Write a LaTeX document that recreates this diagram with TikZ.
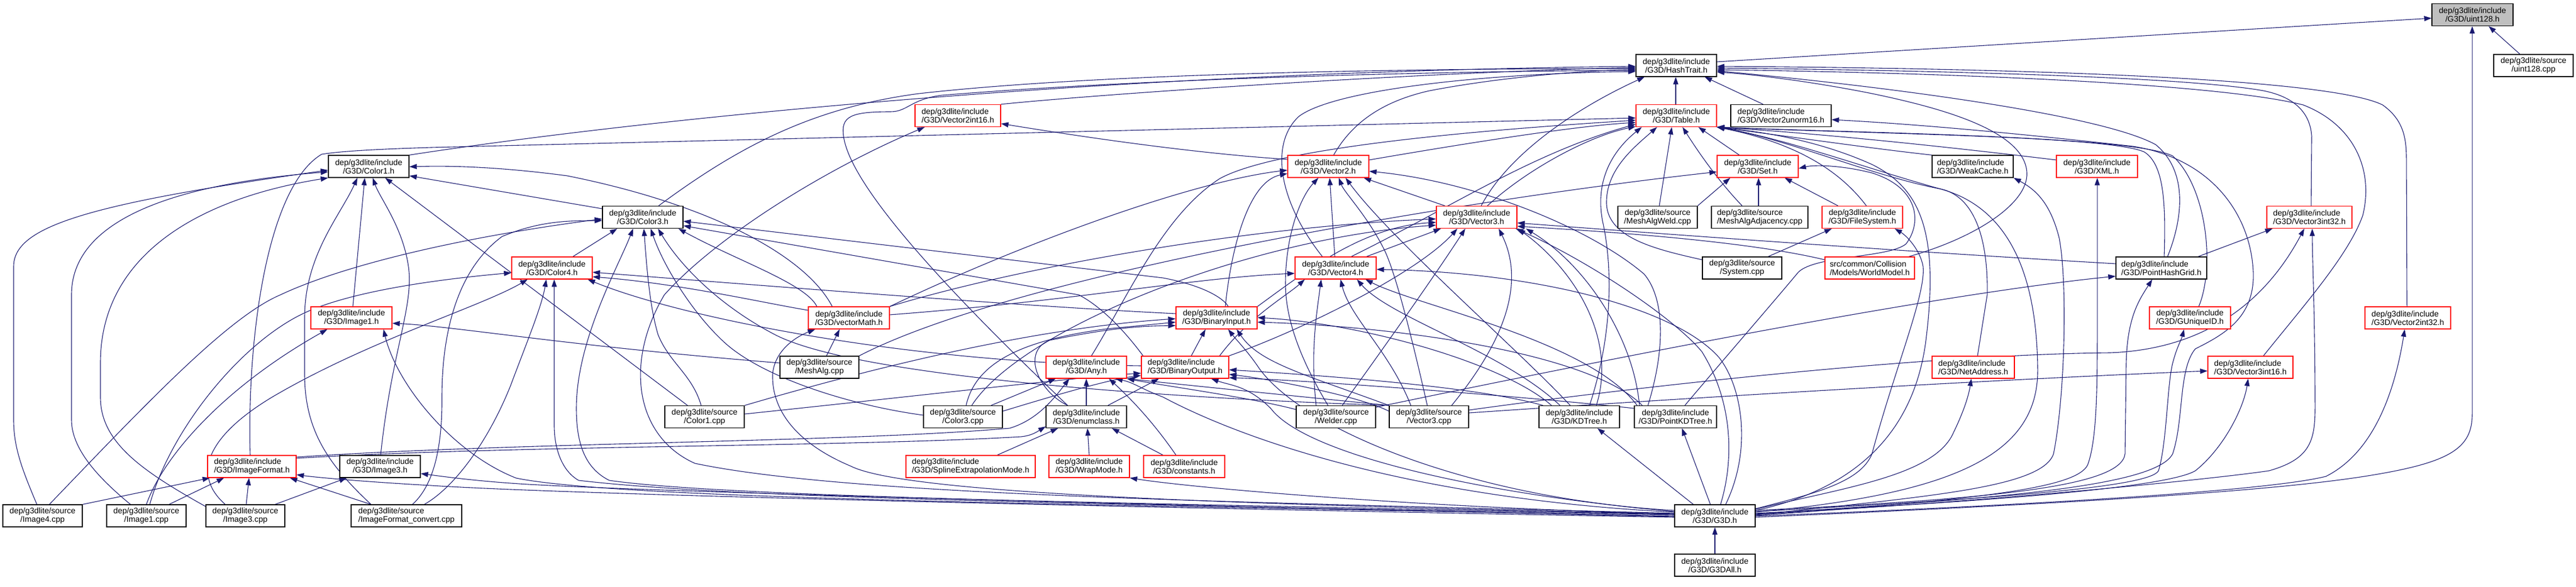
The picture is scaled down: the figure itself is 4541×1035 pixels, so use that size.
\documentclass[tikz,border=0pt]{standalone}
\usepackage{fontspec}
\newfontfamily\nodefont{Liberation Sans}
\usetikzlibrary{arrows.meta,calc}
\definecolor{edgecol}{HTML}{191970}
\pgfdeclarelayer{bg}
\pgfsetlayers{bg,main}
\tikzset{
  nd/.style={draw=black, line width=1.3pt, fill=white, minimum height=39pt, inner sep=0pt, font={\nodefont\fontsize{14.2}{15}\selectfont}},
  cen/.style={nd, align=center},
  lft/.style={nd, align=left},
  rd/.style={draw=red},
  edg/.style={draw=edgecol, line width=1.1pt, -{Triangle[length=13pt,width=9pt]}},
}
\begin{document}
\begin{tikzpicture}[x=1pt,y=-1pt]
\useasboundingbox (0,0) rectangle (4541,1035);
% ---------- nodes ----------
\node[cen, fill={rgb,255:red,191;green,191;blue,191}, minimum width=143pt] (u) at (4358.5,26) {dep/g3dlite/include\\/G3D/uint128.h};
\node[cen, minimum width=140pt] (uc) at (4466,115.5) {dep/g3dlite/source\\/uint128.cpp};
\node[cen, minimum width=142pt] (ht) at (2955,115.5) {dep/g3dlite/include\\/G3D/HashTrait.h};
\node[cen, rd, minimum width=142pt] (t) at (2955,204) {dep/g3dlite/include\\/G3D/Table.h};
\node[lft, rd, minimum width=151pt] (v2i16) at (1688.5,204) {dep/g3dlite/include\\/G3D/Vector2int16.h};
\node[lft, minimum width=177pt] (v2u16) at (3139.5,204) {dep/g3dlite/include\\/G3D/Vector2unorm16.h};
\node[cen, minimum width=142pt] (c1) at (650,293.5) {dep/g3dlite/include\\/G3D/Color1.h};
\node[cen, rd, minimum width=143pt] (v2) at (2341.5,293.5) {dep/g3dlite/include\\/G3D/Vector2.h};
\node[cen, rd, minimum width=143pt] (set) at (3098.5,293.5) {dep/g3dlite/include\\/G3D/Set.h};
\node[lft, minimum width=143pt] (wc) at (3477.5,293.5) {dep/g3dlite/include\\/G3D/WeakCache.h};
\node[cen, rd, minimum width=143pt] (xml) at (3696.5,293.5) {dep/g3dlite/include\\/G3D/XML.h};
\node[cen, minimum width=142pt] (c3) at (1133,383) {dep/g3dlite/include\\/G3D/Color3.h};
\node[cen, rd, minimum width=142pt] (v3) at (2603,383) {dep/g3dlite/include\\/G3D/Vector3.h};
\node[cen, minimum width=140pt] (maw) at (2922,383) {dep/g3dlite/source\\/MeshAlgWeld.cpp};
\node[lft, minimum width=170pt] (maa) at (3102,383) {dep/g3dlite/source\\/MeshAlgAdjacency.cpp};
\node[cen, rd, minimum width=142pt] (fs) at (3283,383) {dep/g3dlite/include\\/G3D/FileSystem.h};
\node[lft, rd, minimum width=150pt] (v3i32) at (4071,383) {dep/g3dlite/include\\/G3D/Vector3int32.h};
\node[cen, rd, minimum width=142pt] (c4) at (973,472.5) {dep/g3dlite/include\\/G3D/Color4.h};
\node[cen, rd, minimum width=143pt] (v4) at (2354.5,472.5) {dep/g3dlite/include\\/G3D/Vector4.h};
\node[cen, minimum width=140pt] (sys) at (3071,472.5) {dep/g3dlite/source\\/System.cpp};
\node[lft, rd, minimum width=158pt] (wm) at (3296,472.5) {src/common/Collision\\/Models/WorldModel.h};
\node[lft, minimum width=160pt] (phg) at (3810,472.5) {dep/g3dlite/include\\/G3D/PointHashGrid.h};
\node[cen, rd, minimum width=143pt] (i1) at (619.5,560.5) {dep/g3dlite/include\\/G3D/Image1.h};
\node[cen, rd, minimum width=143pt] (vm) at (1496.5,560.5) {dep/g3dlite/include\\/G3D/vectorMath.h};
\node[cen, rd, minimum width=143pt] (bi) at (2144.5,560.5) {dep/g3dlite/include\\/G3D/BinaryInput.h};
\node[cen, rd, minimum width=143pt] (guid) at (3860.5,560.5) {dep/g3dlite/include\\/G3D/GUniqueID.h};
\node[lft, rd, minimum width=151pt] (v2i32) at (4244.5,560.5) {dep/g3dlite/include\\/G3D/Vector2int32.h};
\node[cen, minimum width=139pt] (ma) at (1444.5,647.5) {dep/g3dlite/source\\/MeshAlg.cpp};
\node[cen, rd, minimum width=142pt] (any) at (1915,647.5) {dep/g3dlite/include\\/G3D/Any.h};
\node[lft, rd, minimum width=154pt] (bo) at (2089,647.5) {dep/g3dlite/include\\/G3D/BinaryOutput.h};
\node[lft, rd, minimum width=145pt] (na) at (3478.5,647.5) {dep/g3dlite/include\\/G3D/NetAddress.h};
\node[lft, rd, minimum width=150pt] (v3i16) at (3967,647.5) {dep/g3dlite/include\\/G3D/Vector3int16.h};
\node[cen, minimum width=140pt] (c1c) at (1242,735) {dep/g3dlite/source\\/Color1.cpp};
\node[cen, minimum width=139pt] (c3c) at (1697.5,735) {dep/g3dlite/source\\/Color3.cpp};
\node[cen, minimum width=142pt] (ec) at (1915,735) {dep/g3dlite/include\\/G3D/enumclass.h};
\node[cen, minimum width=140pt] (wel) at (2355,735) {dep/g3dlite/source\\/Welder.cpp};
\node[cen, minimum width=140pt] (v3c) at (2519,735) {dep/g3dlite/source\\/Vector3.cpp};
\node[cen, minimum width=142pt] (kd) at (2784,735) {dep/g3dlite/include\\/G3D/KDTree.h};
\node[cen, minimum width=145pt] (pkd) at (2953.5,735) {dep/g3dlite/include\\/G3D/PointKDTree.h};
\node[lft, rd, minimum width=156pt] (if) at (444,822.5) {dep/g3dlite/include\\/G3D/ImageFormat.h};
\node[cen, minimum width=142pt] (i3) at (670,822.5) {dep/g3dlite/include\\/G3D/Image3.h};
\node[lft, rd, minimum width=228pt] (sem) at (1711,822.5) {dep/g3dlite/include\\/G3D/SplineExtrapolationMode.h};
\node[cen, rd, minimum width=142pt] (wmode) at (1920,822.5) {dep/g3dlite/include\\/G3D/WrapMode.h};
\node[cen, rd, minimum width=143pt] (const) at (2087.5,822.5) {dep/g3dlite/include\\/G3D/constants.h};
\node[cen, minimum width=140pt] (i4c) at (75,909.5) {dep/g3dlite/source\\/Image4.cpp};
\node[cen, minimum width=140pt] (i1c) at (258,909.5) {dep/g3dlite/source\\/Image1.cpp};
\node[cen, minimum width=139pt] (i3c) at (432.5,909.5) {dep/g3dlite/source\\/Image3.cpp};
\node[lft, minimum width=195pt] (ifc) at (716.5,909.5) {dep/g3dlite/source\\/ImageFormat\_convert.cpp};
\node[cen, minimum width=142pt] (g3d) at (3023,909.5) {dep/g3dlite/include\\/G3D/G3D.h};
\node[cen, minimum width=142pt] (g3dall) at (3023,996.5) {dep/g3dlite/include\\/G3D/G3DAll.h};
% ---------- edges ----------
\begin{pgfonlayer}{bg}
% uint128
\draw[edg] (ht.east |- 0,109) -- (u.west |- 0,32);
\draw[edg] (uc.north -| 4442,0) -- (u.south -| 4387,0);
\draw[edg] (g3d.east |- 0,912) .. controls (3600,890) and (4000,868) .. (4180,838) .. controls (4320,815) and (4358,790) .. (4358,730) -- (u.south -| 4358,0);
% HashTrait
\draw[edg] (t.north -| 2954,0) -- (ht.south -| 2954,0);
\draw[edg] (v2u16.north -| 3108,0) -- (ht.south -| 3005,0);
\draw[edg] (v2i16.north east) .. controls (1950,165) and (2500,128) .. (ht.west |- 0,119);
\draw[edg] (c1.north east) .. controls (1100,215) and (1900,128) .. (ht.west |- 0,117);
\draw[edg] (c3.north -| 1161,0) .. controls (1300,260) and (1430,190) .. (1620,165) .. controls (1950,128) and (2500,121) .. (ht.west |- 0,121);
\draw[edg] (ec.north -| 1882,0) .. controls (1720,560) and (1500,340) .. (1487,240) .. controls (1482,205) and (1500,197) .. (1570,197) .. controls (1600,197) and (1605,175) .. (1660,168) .. controls (2000,140) and (2500,126) .. (ht.west |- 0,124);
\draw[edg] (v2.north -| 2351,0) .. controls (2380,222) and (2430,180) .. (2520,160) .. controls (2650,135) and (2800,124) .. (ht.west |- 0,123);
\draw[edg] (v4.north -| 2331,0) .. controls (2250,350) and (2240,250) .. (2290,205) .. controls (2350,160) and (2600,130) .. (ht.west |- 0,126);
\draw[edg] (v3.north -| 2611,0) .. controls (2660,270) and (2780,190) .. (ht.south -| 2899,0);
\draw[edg] (v2i32.north -| 4243,0) -- (4242,280) .. controls (4242,240) and (4235,210) .. (4200,185) .. controls (4100,135) and (3500,120) .. (ht.east |- 0,117);
\draw[edg] (v3i32.north -| 4074,0) -- (4075,240) .. controls (4072,195) and (4040,170) .. (3990,160) .. controls (3850,135) and (3400,124) .. (ht.east |- 0,120);
\draw[edg] (v3i16.north -| 3990,0) .. controls (4060,540) and (4140,450) .. (4165,380) .. controls (4185,300) and (4150,220) .. (4060,185) .. controls (3900,145) and (3400,128) .. (ht.east |- 0,123);
\draw[edg] (phg.north -| 3821,0) .. controls (3850,380) and (3855,300) .. (3800,255) .. controls (3700,200) and (3300,150) .. (ht.east |- 0,125);
\draw[edg] (wm.north -| 3365,0) .. controls (3480,420) and (3575,360) .. (3573,305) .. controls (3570,230) and (3420,190) .. (3300,165) .. controls (3200,145) and (3100,132) .. (ht.east |- 0,127);
% Table
\draw[edg] (if.north -| 441,0) .. controls (435,600) and (470,330) .. (567,272) .. controls (610,265) and (700,262) .. (760,260) -- (t.west |- 0,208);
\draw[edg] (v2.east |- 0,282) .. controls (2600,250) and (2780,222) .. (t.west |- 0,216);
\draw[edg] (v3.north -| 2622,0) .. controls (2690,300) and (2800,240) .. (t.west |- 0,223);
\draw[edg] (v4.north -| 2382,0) .. controls (2550,370) and (2700,270) .. (t.west |- 0,219);
\draw[edg] (any.north -| 1924,0) .. controls (1990,520) and (2050,380) .. (2150,315) .. controls (2250,260) and (2600,230) .. (t.west |- 0,212);
\draw[edg] (kd.north -| 2802,0) .. controls (2840,600) and (2845,480) .. (2825,390) .. controls (2810,310) and (2850,260) .. (t.south -| 2894,0);
\draw[edg] (sys.west |- 0,458) .. controls (2920,440) and (2835,420) .. (2832,360) .. controls (2830,300) and (2880,260) .. (t.south -| 2921,0);
\draw[edg] (maw.north -| 2925,0) -- (t.south -| 2947,0);
\draw[edg] (maa.north -| 3071,0) .. controls (3030,320) and (2995,270) .. (t.south -| 2966,0);
\draw[edg] (set.north -| 3066,0) -- (t.south -| 2994,0);
\draw[edg] (fs.north -| 3290,0) .. controls (3250,310) and (3180,255) .. (t.south east);
\draw[edg] (wc.north west) .. controls (3300,262) and (3150,240) .. (t.south east);
\draw[edg] (xml.west |- 0,282) .. controls (3400,255) and (3200,235) .. (t.south east);
\draw[edg] (na.north -| 3486,0) -- (3503,520) .. controls (3505,420) and (3480,345) .. (3420,333) .. controls (3300,310) and (3150,245) .. (t.south east);
\draw[edg] (g3d.east |- 0,900) .. controls (3250,867) and (3372,780) .. (3395,600) .. controls (3420,400) and (3380,330) .. (3300,290) .. controls (3200,245) and (3100,232) .. (t.south east);
\draw[edg] (g3d.east |- 0,903) .. controls (3450,870) and (3594,800) .. (3592,650) .. controls (3590,450) and (3520,360) .. (3420,333) .. controls (3300,300) and (3150,245) .. (t.south east);
\draw[edg] (guid.north -| 3876,0) .. controls (3905,470) and (3890,330) .. (3830,275) .. controls (3760,240) and (3300,235) .. (t.south east);
\draw[edg] (phg.north -| 3815,0) .. controls (3818,360) and (3815,290) .. (3780,268) .. controls (3720,240) and (3300,236) .. (t.south east);
% Vector2int16 / Vector2unorm16
\draw[edg] (v2.west |- 0,281) .. controls (2100,270) and (1900,240) .. (v2i16.east |- 0,218);
\draw[edg] (g3d.west |- 0,905) .. controls (2200,885) and (1500,875) .. (1225,817) .. controls (1120,770) and (1100,640) .. (1171,520) .. controls (1260,420) and (1450,300) .. (v2i16.south -| 1630,0);
\draw[edg] (g3d.east |- 0,906) .. controls (3500,880) and (3800,860) .. (3830,800) .. controls (3850,740) and (3840,650) .. (3870,615) .. controls (3920,590) and (3975,560) .. (3972,480) .. controls (3968,380) and (3900,280) .. (3760,258) .. controls (3600,240) and (3400,220) .. (v2u16.east |- 0,211);
% Color1
\draw[edg] (i4c.north -| 65,0) .. controls (40,830) and (24,790) .. (24,740) -- (24,470) .. controls (24,400) and (150,360) .. (c1.west |- 0,300);
\draw[edg] (i1c.north -| 230,0) .. controls (170,840) and (126,790) .. (126,740) -- (126,520) .. controls (126,390) and (300,325) .. (c1.west |- 0,303);
\draw[edg] (i3c.west |- 0,893) .. controls (250,830) and (177,780) .. (177,700) -- (177,640) .. controls (177,450) and (350,350) .. (c1.south west);
\draw[edg] (ifc.north -| 654,0) .. controls (580,820) and (537,760) .. (537,660) -- (537,560) .. controls (537,450) and (600,380) .. (c1.south -| 630,0);
\draw[edg] (i1.north -| 622,0) -- (c1.south -| 643,0);
\draw[edg] (i3.north -| 671,0) .. controls (690,620) and (730,540) .. (720,470) .. controls (710,400) and (670,350) .. (c1.south -| 657,0);
\draw[edg] (c1c.north -| 1212,0) -- (c1.south -| 679,0);
\draw[edg] (vm.north -| 1467,0) .. controls (1420,450) and (1250,360) .. (1000,310) .. controls (850,290) and (760,293) .. (c1.east |- 0,294);
\draw[edg] (c3.west |- 0,368) -- (c1.east |- 0,310);
% Vector2
\draw[edg] (v3.north -| 2547,0) -- (v2.south -| 2404,0);
\draw[edg] (v4.north -| 2353,0) -- (v2.south -| 2344,0);
\draw[edg] (wel.north -| 2341,0) .. controls (2290,630) and (2266,560) .. (2266,500) .. controls (2266,420) and (2290,350) .. (v2.south -| 2324,0);
\draw[edg] (v3c.north -| 2516,0) .. controls (2490,600) and (2460,480) .. (2440,440) .. controls (2410,380) and (2370,340) .. (v2.south -| 2360,0);
\draw[edg] (kd.north -| 2768,0) .. controls (2680,620) and (2450,420) .. (v2.south -| 2372,0);
\draw[edg] (pkd.north -| 2905,0) .. controls (2940,600) and (2930,520) .. (2898,483) .. controls (2800,400) and (2600,320) .. (v2.east |- 0,302);
\draw[edg] (vm.north east) .. controls (1800,430) and (2100,320) .. (v2.west |- 0,300);
\draw[edg] (bi.north -| 2160,0) .. controls (2170,440) and (2200,320) .. (v2.west |- 0,306);
% Set
\draw[edg] (maw.north east) -- (set.south -| 3050,0);
\draw[edg] (maa.north -| 3100,0) -- (set.south -| 3100,0);
\draw[edg] (fs.north -| 3240,0) -- (set.south -| 3146,0);
\draw[edg] (ma.north east) .. controls (1800,480) and (2600,350) .. (set.west |- 0,303);
\draw[edg] (pkd.north -| 2970,0) .. controls (3050,620) and (3120,540) .. (3170,480) .. controls (3200,450) and (3330,455) .. (3360,430) .. controls (3390,390) and (3380,330) .. (3300,305) .. controls (3250,292) and (3200,290) .. (set.east |- 0,297);
% WeakCache, XML
\draw[edg] (g3d.east |- 0,908) .. controls (3400,875) and (3600,860) .. (3620,800) .. controls (3640,700) and (3645,500) .. (3630,420) .. controls (3615,360) and (3590,335) .. (wc.south east);
\draw[edg] (g3d.east |- 0,909) .. controls (3500,880) and (3660,860) .. (3680,820) .. controls (3695,780) and (3697,700) .. (3697,600) -- (xml.south -| 3697,0);
% Color3
\draw[edg] (c4.north -| 1010,0) -- (c3.south -| 1088,0);
\draw[edg] (g3d.west |- 0,907) .. controls (2200,890) and (1300,880) .. (1074,847) .. controls (1030,825) and (1016,780) .. (1016,720) .. controls (1016,600) and (1090,470) .. (c3.south -| 1116,0);
\draw[edg] (c1c.north -| 1236,0) .. controls (1220,660) and (1180,640) .. (1160,590) .. controls (1145,540) and (1140,470) .. (c3.south -| 1135,0);
\draw[edg] (c3c.west |- 0,732) .. controls (1500,715) and (1340,665) .. (1273,600) .. controls (1220,550) and (1170,470) .. (c3.south -| 1147,0);
\draw[edg] (v3c.north west) .. controls (2000,700) and (1500,660) .. (1366,590) .. controls (1270,540) and (1200,470) .. (c3.south -| 1160,0);
\draw[edg] (vm.north -| 1440,0) .. controls (1420,500) and (1300,460) .. (c3.south -| 1196,0);
\draw[edg] (bi.north -| 2165,0) .. controls (2160,530) and (2130,505) .. (2050,490) -- (c3.east |- 0,390);
\draw[edg] (bo.north -| 2015,0) .. controls (1980,580) and (1940,540) .. (1902,520) -- (c3.east |- 0,398);
\draw[edg] (ifc.north -| 727,0) .. controls (760,860) and (780,800) .. (779,700) .. controls (779,600) and (800,480) .. (885,417) .. controls (950,390) and (1000,389) .. (c3.west |- 0,389);
\draw[edg] (i4c.north -| 87,0) .. controls (250,720) and (400,560) .. (494,520) .. controls (600,470) and (800,420) .. (c3.west |- 0,386);
% Color4
\draw[edg] (i1c.north -| 264,0) .. controls (300,760) and (420,610) .. (530,555) .. controls (620,510) and (800,490) .. (c4.west |- 0,481);
\draw[edg] (i3c.north -| 397,0) .. controls (330,830) and (380,760) .. (480,700) .. controls (650,600) and (850,540) .. (c4.south -| 930,0);
\draw[edg] (ifc.north -| 748,0) .. controls (800,860) and (860,780) .. (900,680) .. controls (930,600) and (955,540) .. (c4.south -| 963,0);
\draw[edg] (g3d.west |- 0,908) .. controls (2000,890) and (1300,880) .. (1020,847) .. controls (990,830) and (977,790) .. (977,750) -- (c4.south -| 977,0);
\draw[edg] (bo.west |- 0,645) .. controls (1600,640) and (1200,560) .. (c4.south -| 1036,0);
\draw[edg] (bi.west |- 0,553) .. controls (1800,540) and (1300,500) .. (c4.east |- 0,480);
\draw[edg] (vm.west |- 0,547) .. controls (1350,535) and (1200,500) .. (c4.east |- 0,488);
% Vector3
\draw[edg] (v4.north -| 2409,0) -- (v3.south -| 2540,0);
\draw[edg] (bo.north east) .. controls (2300,580) and (2500,480) .. (v3.south -| 2569,0);
\draw[edg] (wel.north -| 2366,0) .. controls (2420,640) and (2520,500) .. (v3.south -| 2583,0);
\draw[edg] (v3c.north -| 2559,0) .. controls (2620,640) and (2700,520) .. (v3.south -| 2642,0);
\draw[edg] (kd.north -| 2814,0) .. controls (2850,600) and (2780,480) .. (v3.south -| 2676,0);
\draw[edg] (pkd.north -| 2890,0) .. controls (2880,600) and (2800,470) .. (v3.south -| 2690,0);
\draw[edg] (phg.west |- 0,465) .. controls (3300,440) and (2900,410) .. (v3.east |- 0,393);
\draw[edg] (wm.west |- 0,458) .. controls (3100,430) and (2900,412) .. (v3.east |- 0,399);
\draw[edg] (vm.north east) .. controls (1800,470) and (2200,400) .. (v3.west |- 0,386);
\draw[edg] (bi.north east) .. controls (2300,480) and (2400,400) .. (v3.west |- 0,392);
\draw[edg] (c3c.north -| 1713,0) .. controls (1800,580) and (2200,420) .. (v3.west |- 0,397);
\draw[edg] (g3d.north -| 3033,0) .. controls (3060,800) and (3050,700) .. (3000,620) .. controls (2950,560) and (2800,460) .. (v3.south -| 2672,0);
% FileSystem
\draw[edg] (sys.north -| 3117,0) -- (fs.south -| 3229,0);
\draw[edg] (g3d.east |- 0,897) .. controls (3200,870) and (3280,850) .. (3300,800) .. controls (3340,650) and (3395,520) .. (3390,470) .. controls (3385,440) and (3360,415) .. (fs.south -| 3340,0);
% Vector3int32 / 16
\draw[edg] (phg.north -| 3875,0) -- (v3i32.south -| 4006,0);
\draw[edg] (v3c.east |- 0,723) .. controls (2900,680) and (3400,625) .. (3720,622) .. controls (3900,615) and (4000,520) .. (v3i32.south -| 4062,0);
\draw[edg] (g3d.east |- 0,907) .. controls (3500,885) and (3900,845) .. (4000,830) .. controls (4070,810) and (4081,780) .. (4081,720) .. controls (4081,560) and (4076,450) .. (v3i32.south -| 4076,0);
\draw[edg] (v3c.east |- 0,728) .. controls (3000,700) and (3500,670) .. (v3i16.west |- 0,654);
\draw[edg] (g3d.east |- 0,905) .. controls (3500,885) and (3820,860) .. (3870,830) .. controls (3920,790) and (3955,720) .. (v3i16.south -| 3963,0);
% Vector4
\draw[edg] (vm.east |- 0,555) .. controls (1900,530) and (2100,490) .. (v4.west |- 0,482);
\draw[edg] (bo.north -| 2150,0) .. controls (2200,560) and (2270,520) .. (v4.south -| 2300,0);
\draw[edg] (wel.north -| 2320,0) .. controls (2310,620) and (2320,560) .. (v4.south -| 2329,0);
\draw[edg] (v3c.north -| 2487,0) .. controls (2450,620) and (2380,560) .. (v4.south -| 2363,0);
\draw[edg] (kd.north -| 2750,0) .. controls (2650,620) and (2450,560) .. (v4.south -| 2392,0);
\draw[edg] (pkd.north -| 2886,0) .. controls (2800,600) and (2500,540) .. (v4.south -| 2407,0);
\draw[edg] (g3d.north -| 3042,0) .. controls (3090,790) and (3070,680) .. (3030,630) .. controls (2950,540) and (2700,480) .. (v4.east |- 0,475);
% PointHashGrid
\draw[edg] (wel.east |- 0,718) .. controls (2800,640) and (3400,520) .. (phg.west |- 0,487);
\draw[edg] (g3d.east |- 0,900) .. controls (3500,880) and (3740,860) .. (3746,800) -- (3748,640) .. controls (3750,560) and (3770,530) .. (phg.south -| 3794,0);
% Image1, vectorMath, GUniqueID, Vector2int32, NetAddress
\draw[edg] (ma.west |- 0,640) .. controls (1000,610) and (800,575) .. (i1.east |- 0,570);
\draw[edg] (i1c.north -| 258,0) .. controls (290,800) and (400,680) .. (i1.south -| 577,0);
\draw[edg] (g3d.west |- 0,910) .. controls (2000,890) and (1100,882) .. (910,843) .. controls (800,800) and (700,680) .. (i1.south -| 676,0);
\draw[edg] (ma.north -| 1457,0) -- (vm.south -| 1480,0);
\draw[edg] (g3d.west |- 0,906) .. controls (2200,890) and (1600,872) .. (1500,822) .. controls (1400,780) and (1360,720) .. (1362,660) .. controls (1365,620) and (1400,595) .. (vm.south -| 1437,0);
\draw[edg] (g3d.east |- 0,902) .. controls (3500,880) and (3790,860) .. (3805,830) .. controls (3820,780) and (3820,680) .. (3830,640) .. controls (3838,610) and (3845,600) .. (guid.south -| 3850,0);
\draw[edg] (g3d.east |- 0,910) .. controls (3600,890) and (4000,865) .. (4100,840) .. controls (4180,800) and (4220,700) .. (v2i32.south -| 4239,0);
\draw[edg] (g3d.east |- 0,898) .. controls (3250,860) and (3400,840) .. (3440,770) .. controls (3460,730) and (3470,700) .. (na.south -| 3475,0);
% BinaryInput
\draw[edg] (bo.north -| 2100,0) -- (bi.south -| 2125,0);
\draw[edg] (c3c.north -| 1703,0) .. controls (1720,640) and (1800,600) .. (1950,580) -- (bi.west |- 0,568);
\draw[edg] (ec.north -| 1882,0) .. controls (1830,690) and (1800,620) .. (1850,600) .. controls (1950,580) and (2000,575) .. (bi.west |- 0,574);
\draw[edg] (c1c.north east) .. controls (1500,660) and (1800,580) .. (bi.west |- 0,562);
\draw[edg] (v3c.north west) .. controls (2300,660) and (2220,640) .. (bi.south -| 2180,0);
\draw[edg] (kd.north -| 2735,0) .. controls (2650,640) and (2400,570) .. (bi.east |- 0,560);
\draw[edg] (pkd.north -| 2895,0) .. controls (2800,620) and (2450,575) .. (bi.east |- 0,568);
\draw[edg] (g3d.west |- 0,900) .. controls (2600,880) and (2300,760) .. (2220,650) .. controls (2200,620) and (2180,600) .. (bi.south -| 2165,0);
% Any
\draw[edg] (ec.north -| 1915,0) -- (any.south -| 1915,0);
\draw[edg] (const.north -| 2073,0) .. controls (2030,740) and (1990,700) .. (any.south -| 1955,0);
\draw[edg] (c3c.north -| 1747,0) -- (any.south -| 1861,0);
\draw[edg] (wel.west |- 0,722) .. controls (2200,700) and (2050,680) .. (any.south east);
\draw[edg] (v3c.north west) .. controls (2300,700) and (2100,680) .. (any.south east);
\draw[edg] (if.east |- 0,806) .. controls (900,780) and (1500,780) .. (1780,755) .. controls (1830,740) and (1860,700) .. (any.south -| 1885,0);
\draw[edg] (g3d.west |- 0,903) .. controls (2500,880) and (2200,780) .. (2050,700) .. controls (2010,685) and (2000,675) .. (any.south -| 1966,0);
% BinaryOutput
\draw[edg] (ec.north -| 1953,0) -- (bo.south -| 2043,0);
\draw[edg] (c3c.east |- 0,725) .. controls (1850,700) and (1950,670) .. (bo.west |- 0,662);
\draw[edg] (c1c.east |- 0,730) .. controls (1600,700) and (1900,665) .. (bo.west |- 0,658);
\draw[edg] (v3c.west |- 0,725) .. controls (2400,700) and (2250,670) .. (bo.east |- 0,660);
\draw[edg] (kd.north -| 2720,0) .. controls (2600,680) and (2300,660) .. (bo.east |- 0,652);
\draw[edg] (pkd.west |- 0,720) .. controls (2700,700) and (2300,670) .. (bo.east |- 0,666);
\draw[edg] (g3d.west |- 0,902) .. controls (2600,870) and (2300,800) .. (2240,720) .. controls (2200,680) and (2170,680) .. (bo.south -| 2135,0);
% enumclass
\draw[edg] (sem.north -| 1758,0) -- (ec.south -| 1865,0);
\draw[edg] (wmode.north -| 1920,0) -- (ec.south -| 1917,0);
\draw[edg] (const.north -| 2050,0) -- (ec.south -| 1960,0);
\draw[edg] (if.east |- 0,808) .. controls (900,785) and (1500,788) .. (1800,770) .. controls (1820,768) and (1830,760) .. (ec.west |- 0,752);
\draw[edg] (g3d.west |- 0,906) .. controls (2500,895) and (2100,860) .. (wmode.south east);
% KDTree / PointKDTree
\draw[edg] (g3d.north -| 2985,0) -- (kd.south -| 2816,0);
\draw[edg] (g3d.north -| 3015,0) -- (pkd.south -| 2965,0);
% ImageFormat
\draw[edg] (i4c.north east) -- (if.south -| 370,0);
\draw[edg] (i1c.north -| 298,0) -- (if.south -| 395,0);
\draw[edg] (i3c.north -| 434,0) -- (if.south -| 439,0);
\draw[edg] (ifc.north -| 654,0) -- (if.south -| 511,0);
\draw[edg] (g3d.west |- 0,912) .. controls (2000,895) and (1000,872) .. (760,856) .. controls (650,850) and (560,842) .. (if.east |- 0,837);
% Image3
\draw[edg] (i3c.north -| 485,0) -- (i3.south -| 611,0);
\draw[edg] (g3d.west |- 0,911) .. controls (2000,890) and (1200,868) .. (950,855) .. controls (850,850) and (780,840) .. (i3.east |- 0,835);
% G3DAll
\draw[edg] (g3dall.north) -- (g3d.south);
\end{pgfonlayer}
\end{tikzpicture}
\end{document}
